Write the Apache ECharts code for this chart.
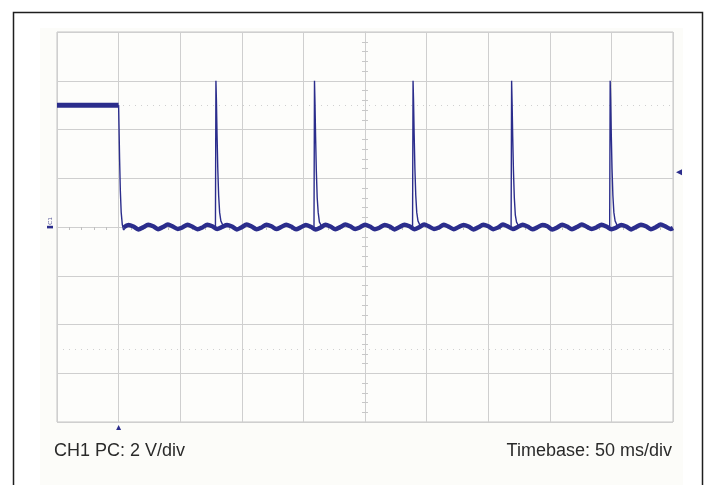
<!DOCTYPE html>
<html><head><meta charset="utf-8">
<script src="https://cdn.jsdelivr.net/npm/echarts@6/dist/echarts.min.js"></script>
<style>html,body{margin:0;padding:0;background:#fff}#c{width:709px;height:485px}</style>
</head><body><div id="c"></div>
<script>
// Oscilloscope capture: CH1 2 V/div, 50 ms/div
var xMin = 0, xMax = 500, xStep = 50;      // ms
var yMin = -8, yMax = 8, yStep = 2;        // V
var captionLeft = 'CH1 PC: 2 V/div';
var captionRight = 'Timebase: 50 ms/div';
var triggerTime = 50;      // ms (bottom marker)
var triggerLevel = 2.25;   // V (right marker)

// high level before the falling edge
var highT = [0, 50];
var highV = [5, 5];
// falling edge
var fallT = [50, 50.3, 50.8, 51.4, 52.1, 53, 54, 55];
var fallV = [5, 4.2, 2.8, 1.5, 0.6, 0.1, -0.12, -0.06];
// baseline with ripple
var baseT = [54,58,62,66,70,74,78,82,86,90,94,98,102,106,110,114,
  118,122,126,130,134,138,142,146,150,154,158,162,166,170,174,178,
  182,186,190,194,198,202,206,210,214,218,222,226,230,234,238,242,
  246,250,254,258,262,266,270,274,278,282,286,290,294,298,302,306,
  310,314,318,322,326,330,334,338,342,346,350,354,358,362,366,370,
  374,378,382,386,390,394,398,402,406,410,414,418,422,426,430,434,
  438,442,446,450,454,458,462,466,470,474,478,482,486,490,494,498,500];
var baseV = [-0.02,0.08,0.02,-0.1, -0.01,0.09,0.03,-0.09, 0,0.1,0.02,-0.08, -0.01,0.09,0.01,-0.09,
  -0.02,0.09,0.03,-0.08, 0,0.08,0.02,-0.1, -0.01,0.1,0.02,-0.09, -0.02,0.09,0.03,-0.08,
  0,0.09,0.02,-0.09, -0.01,0.08,0.01,-0.1, -0.02,0.09,0.02,-0.09, 0,0.1,0.03,-0.08,
  -0.01,0.09,0.02,-0.09, -0.02,0.08,0.02,-0.1, 0,0.09,0.03,-0.09, -0.01,0.1,0.02,-0.08,
  -0.02,0.09,0.01,-0.09, 0,0.08,0.02,-0.1, -0.01,0.09,0.03,-0.09, -0.02,0.1,0.02,-0.08,
  0,0.09,0.02,-0.09, -0.01,0.08,0.03,-0.1, -0.02,0.09,0.02,-0.09, 0,0.1,0.01,-0.08,
  -0.01,0.09,0.02,-0.09, -0.02,0.08,0.02,-0.1, 0,0.09,0.03,-0.09, -0.01,0.1,0.02,-0.08, -0.04];
// spikes (null = break between spikes)
var spikeT = [128.6,129,129.4,129.9,130.5,131.2,132,133,134.5,null,
  208.6,209,209.4,209.9,210.5,211.2,212,213,214.5,null,
  288.6,289,289.4,289.9,290.5,291.2,292,293,294.5,null,
  368.6,369,369.4,369.9,370.5,371.2,372,373,374.5,null,
  448.6,449,449.4,449.9,450.5,451.2,452,453,454.5];
var spikeV = [0,6,5.2,3.8,2.4,1.3,0.6,0.25,0.08,null,
  0,6,5.1,3.7,2.3,1.2,0.6,0.2,0.06,null,
  0,6,5.2,3.8,2.4,1.3,0.6,0.25,0.08,null,
  0,6,5.1,3.7,2.3,1.2,0.5,0.2,0.06,null,
  0,6,5.2,3.8,2.4,1.3,0.6,0.25,0.08];
var refLevels = [5, -5];   // dotted reference lines

function pairs(t, v) { return t.map(function (x, i) { return x === null ? ['-', '-'] : [x, v[i]]; }); }

var TRACE = '#2b2d8c';
var GRIDC = '#cfcfcf';
var chart = echarts.init(document.getElementById('c'), null, {renderer: 'canvas'});
var G = {left: 57, top: 32, width: 616, height: 390};

var opt = {
  animation: false,
  backgroundColor: '#ffffff',
  grid: {left: G.left, top: G.top, width: G.width, height: G.height, show: true,
    borderColor: '#c4c4c4', borderWidth: 1, backgroundColor: '#fdfdfb'},
  xAxis: [
    {type: 'value', min: xMin, max: xMax, interval: xStep,
     axisLine: {show: true, onZero: true, lineStyle: {color: GRIDC}},
     axisTick: {show: false}, axisLabel: {show: false},
     minorTick: {show: true, splitNumber: 5, length: 3, lineStyle: {color: '#c0c0c0'}},
     splitLine: {show: true, lineStyle: {color: GRIDC, width: 1}}},
    {type: 'value', min: xMin, max: xMax, interval: xStep, position: 'top',
     axisLine: {show: false, onZero: true}, axisTick: {show: false, inside: true}, axisLabel: {show: false},
     minorTick: {show: true, splitNumber: 5, length: 3, lineStyle: {color: '#c0c0c0'}},
     splitLine: {show: false}}
  ],
  yAxis: [
    {type: 'value', min: yMin, max: yMax, interval: yStep,
     axisLine: {show: true, onZero: false, lineStyle: {color: GRIDC}}, offset: -G.width / 2,
     axisTick: {show: false}, axisLabel: {show: false},
     minorTick: {show: true, splitNumber: 5, length: 3, lineStyle: {color: '#c8c8c8'}},
     splitLine: {show: true, lineStyle: {color: GRIDC, width: 1}}},
    {type: 'value', min: yMin, max: yMax, interval: yStep, position: 'right',
     axisLine: {show: false, onZero: false}, offset: -G.width / 2,
     axisTick: {show: false}, axisLabel: {show: false},
     minorTick: {show: true, splitNumber: 5, length: 3, lineStyle: {color: '#c8c8c8'}},
     splitLine: {show: false}}
  ],
  series: [
    {type: 'line', data: pairs(highT, highV), showSymbol: false, symbol: 'none',
     lineStyle: {color: TRACE, width: 5}, z: 5,
     markLine: {silent: true, symbol: 'none', label: {show: false},
       lineStyle: {color: '#d0d0d0', type: [1, 5], width: 1},
       data: refLevels.map(function (v) { return {yAxis: v}; })}},
    {type: 'line', data: pairs(fallT, fallV), showSymbol: false, symbol: 'none',
     lineStyle: {color: TRACE, width: 1.4}, z: 5},
    {type: 'line', data: pairs(baseT, baseV), showSymbol: false, symbol: 'none', smooth: 0.3,
     lineStyle: {color: TRACE, width: 4.4}, z: 5},
    {type: 'line', data: pairs(spikeT, spikeV), showSymbol: false, symbol: 'none', connectNulls: false,
     lineStyle: {color: TRACE, width: 1.4}, z: 6}
  ]
};
chart.setOption(opt);

var pTrig = chart.convertToPixel({gridIndex: 0}, [triggerTime, triggerLevel]);
var pZero = chart.convertToPixel({gridIndex: 0}, [xMin, 0]);
var gb = G.top + G.height, gr = G.left + G.width;

chart.setOption({graphic: [
  {type: 'rect', z: -10, silent: true, shape: {x: 40, y: 28, width: 643, height: 460}, style: {fill: '#fcfcf9'}},
  {type: 'polyline', z: 10, silent: true, shape: {points: [[13.5, 490], [13.5, 12.5], [702.5, 12.5], [702.5, 490]]},
   style: {stroke: '#1e1e1e', lineWidth: 1.5, fill: null}},
  {type: 'text', z: 10, x: 54, y: 451, style: {text: captionLeft, font: '18px "Liberation Sans", Arial, sans-serif',
   fill: '#2a2a2a', align: 'left', verticalAlign: 'middle'}},
  {type: 'text', z: 10, x: 672, y: 451, style: {text: captionRight, font: '18px "Liberation Sans", Arial, sans-serif',
   fill: '#2a2a2a', align: 'right', verticalAlign: 'middle'}},
  // bottom trigger-position marker
  {type: 'polygon', z: 10, silent: true, shape: {points: [[pTrig[0] - 2.5, gb + 8], [pTrig[0] + 2.5, gb + 8], [pTrig[0], gb + 3]]},
   style: {fill: TRACE}},
  // right trigger-level marker
  {type: 'polygon', z: 10, silent: true, shape: {points: [[gr + 3, pTrig[1]], [gr + 9, pTrig[1] - 3], [gr + 9, pTrig[1] + 3]]},
   style: {fill: TRACE}},
  // ground marker
  {type: 'rect', z: 10, silent: true, shape: {x: pZero[0] - 10, y: pZero[1] - 1.2, width: 6, height: 2.6}, style: {fill: TRACE}},
  {type: 'text', z: 10, x: pZero[0] - 7, y: pZero[1] - 6, rotation: Math.PI / 2,
   style: {text: 'C1', font: '6px "Liberation Sans", Arial, sans-serif', fill: '#5a5a9a', align: 'center', verticalAlign: 'middle'}}
]});
</script>
</body></html>
